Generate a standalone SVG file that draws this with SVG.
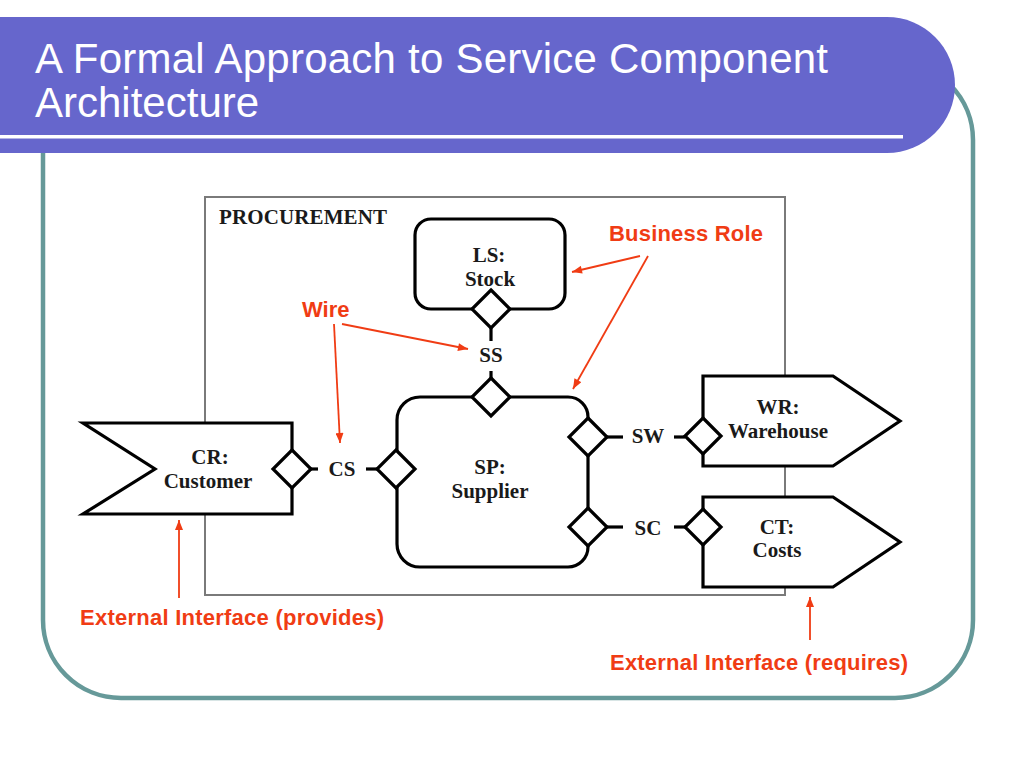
<svg xmlns="http://www.w3.org/2000/svg" width="1024" height="768" viewBox="0 0 1024 768">
<style>
.ttl{font-family:"Liberation Sans",Arial,sans-serif;font-size:42px;fill:#ffffff}
.lbl{font-family:"Liberation Serif","Times New Roman",serif;font-weight:bold;font-size:21px;fill:#1a1a1a;text-anchor:middle}
.ann{font-family:"Liberation Sans",Arial,sans-serif;font-weight:bold;font-size:22px;fill:#f03c14}
.shape{fill:#ffffff;stroke:#000000;stroke-width:3.2;stroke-linejoin:miter}
.dia{fill:#ffffff;stroke:#000000;stroke-width:3.2}
.wire{stroke:#000000;stroke-width:3.2;fill:none}
.rarr{stroke:#f03c14;stroke-width:1.8;fill:none;marker-end:url(#ah)}
</style>
<defs>
<marker id="ah" viewBox="0 0 10 8" refX="10" refY="4" markerWidth="11" markerHeight="8" markerUnits="userSpaceOnUse" orient="auto">
<path d="M0,0 L10,4 L0,8 Z" fill="#f03c14"/>
</marker>
<path id="d19" d="M0,-19 L19,0 L0,19 L-19,0 Z"/>
<path id="d18" d="M0,-18 L18,0 L0,18 L-18,0 Z"/>
</defs>
<rect width="1024" height="768" fill="#ffffff"/>
<g id="frame">
<rect x="43" y="62" width="930" height="636" rx="78" ry="78" fill="none" stroke="#669999" stroke-width="4.5"/>
</g>
<g id="banner">
<path d="M0,17 H887 A68,68 0 0 1 887,153 H0 Z" fill="#6666cc"/>
<rect x="0" y="135" width="903" height="3.5" fill="#ffffff"/>
<text class="ttl" x="35" y="73" textLength="793">A Formal Approach to Service Component</text>
<text class="ttl" x="35" y="117">Architecture</text>
</g>
<g id="procurement">
<rect x="205" y="197" width="580" height="398" fill="none" stroke="#7a7a7a" stroke-width="2"/>
<text class="lbl" x="219" y="224" style="text-anchor:start" textLength="168">PROCUREMENT</text>
</g>
<g id="connectors">
<line class="wire" x1="491" y1="328" x2="491" y2="341"/>
<line class="wire" x1="491" y1="371" x2="491" y2="378"/>
<line class="wire" x1="310" y1="469" x2="318" y2="469"/>
<line class="wire" x1="366" y1="469" x2="377" y2="469"/>
<line class="wire" x1="607" y1="437" x2="623" y2="437"/>
<line class="wire" x1="674" y1="437" x2="685" y2="437"/>
<line class="wire" x1="607" y1="527" x2="623" y2="527"/>
<line class="wire" x1="674" y1="527" x2="685" y2="527"/>
<text class="lbl" x="491" y="362">SS</text>
<text class="lbl" x="342" y="476">CS</text>
<text class="lbl" x="648" y="443">SW</text>
<text class="lbl" x="648" y="535">SC</text>
</g>
<g id="LS">
<rect class="shape" x="415" y="219" width="150" height="90" rx="16" ry="16"/>
<use href="#d19" class="dia" x="491" y="309"/>
<text class="lbl" x="489" y="262">LS:</text>
<text class="lbl" x="490" y="286">Stock</text>
</g>
<g id="SP">
<path class="shape" d="M420,397 H568 A20,20 0 0 1 588,417 V547 A20,20 0 0 1 568,567 H420 A23,23 0 0 1 397,544 V420 A23,23 0 0 1 420,397 Z"/>
<use href="#d19" class="dia" x="491" y="397"/>
<use href="#d19" class="dia" x="396" y="469"/>
<use href="#d19" class="dia" x="588" y="437"/>
<use href="#d19" class="dia" x="588" y="527"/>
<text class="lbl" x="490" y="474">SP:</text>
<text class="lbl" x="490" y="498">Supplier</text>
</g>
<g id="CR">
<path class="shape" d="M83,423 H292 V514 H83 L155,469 Z"/>
<use href="#d19" class="dia" x="292" y="469"/>
<text class="lbl" x="210" y="464">CR:</text>
<text class="lbl" x="208" y="488">Customer</text>
</g>
<g id="WR">
<path class="shape" d="M703,376 H833 L900,421 L833,466 H703 Z"/>
<use href="#d18" class="dia" x="703" y="436"/>
<text class="lbl" x="778" y="414">WR:</text>
<text class="lbl" x="778" y="438">Warehouse</text>
</g>
<g id="CT">
<path class="shape" d="M703,497 H833 L900,542 L833,587 H703 Z"/>
<use href="#d18" class="dia" x="703" y="527"/>
<text class="lbl" x="777" y="534">CT:</text>
<text class="lbl" x="777" y="557">Costs</text>
</g>
<g id="annotations">
<text class="ann" x="609" y="241" textLength="154">Business Role</text>
<line class="rarr" x1="640" y1="256" x2="572" y2="272"/>
<line class="rarr" x1="648" y1="256" x2="573" y2="389"/>
<text class="ann" x="302" y="317">Wire</text>
<line class="rarr" x1="342" y1="324" x2="468" y2="349"/>
<line class="rarr" x1="334" y1="324" x2="340" y2="443"/>
<text class="ann" x="80" y="625" textLength="304">External Interface (provides)</text>
<line class="rarr" x1="179" y1="598" x2="179" y2="520"/>
<text class="ann" x="610" y="670" textLength="298">External Interface (requires)</text>
<line class="rarr" x1="810" y1="640" x2="810" y2="597"/>
</g>
</svg>
